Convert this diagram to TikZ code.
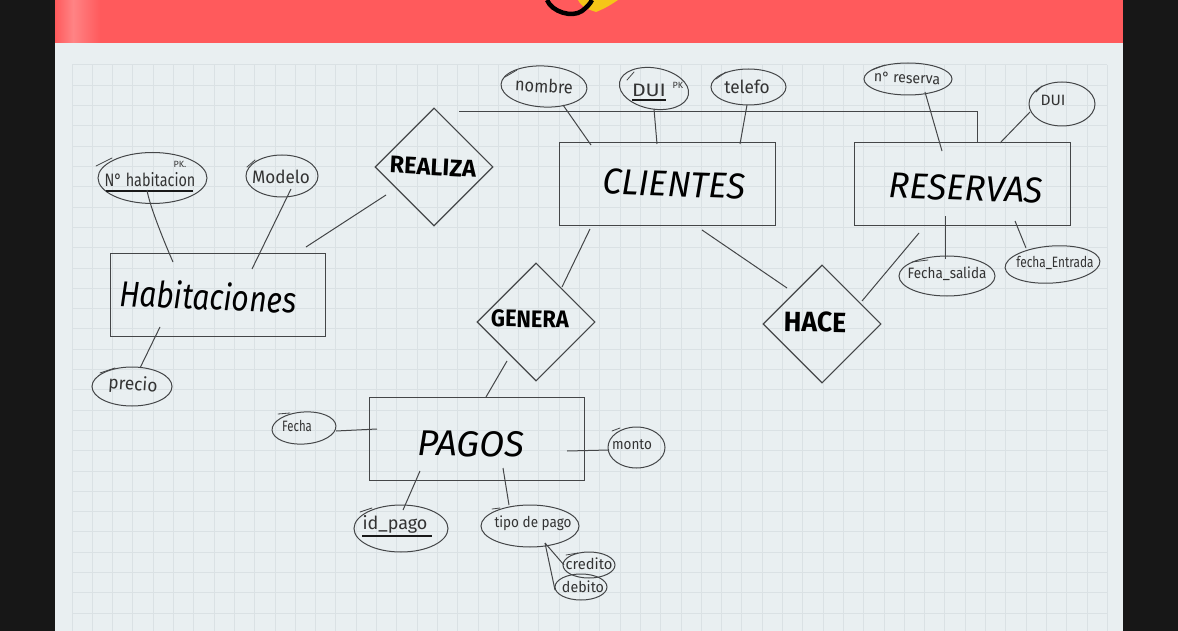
\documentclass[tikz,border=0pt]{standalone}
\usepackage{fontspec}
\setmainfont{Fira Sans}
\usetikzlibrary{shapes.geometric,calc}
\definecolor{sidecol}{HTML}{171717}
\definecolor{redcol}{HTML}{FF5A5C}
\definecolor{papercol}{HTML}{E9EFF1}
\definecolor{gridcol}{HTML}{DAE1E4}
\definecolor{inkcol}{HTML}{444648}
\definecolor{yellowcol}{HTML}{F5C518}
\tikzset{
  entity/.style={draw=inkcol,line width=1pt,minimum width=#1,minimum height=83pt,inner sep=0pt},
  relation/.style={draw=inkcol,line width=1.1pt,diamond,aspect=1,minimum width=118pt,minimum height=118pt,inner sep=0pt},
  attr/.style n args={2}{draw=inkcol,line width=1pt,ellipse,minimum width=#1,minimum height=#2,inner sep=0pt},
  link/.style={draw=inkcol,line width=1pt},
  tail/.style={draw=inkcol,line width=.8pt,line cap=round},
  bigtext/.style={font=\itshape\fontsize{36}{36}\selectfont,text=black},
  reltext/.style={font=\bfseries\fontsize{24}{24}\selectfont,text=black},
  smalltext/.style={font=\fontsize{18}{18}\selectfont,text=black!80},
  tinytext/.style={font=\fontsize{15}{15}\selectfont,text=black!80},
  under/.style={draw=black!90,line width=1.6pt}
}
\begin{document}
\begin{tikzpicture}[x=1pt,y=-1pt]
\useasboundingbox (0,0) rectangle (1178,631);
% backdrop
\fill[sidecol] (0,0) rectangle (1178,631);
\fill[papercol] (55,43) rectangle (1123,631);
\fill[redcol] (55,0) rectangle (1123,43);
\fill[left color=redcol,right color=white!25!redcol] (55,0) rectangle (73,43);
\fill[left color=white!25!redcol,right color=redcol] (73,0) rectangle (100,43);
% grid
\foreach \i in {0,...,51} \draw[gridcol,line width=1pt] ({72+20.3*\i},65) -- ({72+20.3*\i},631);
\foreach \j in {0,...,27} \draw[gridcol,line width=1pt] (72,{65+20.3*\j}) -- (1107,{65+20.3*\j});
% logo fragment
\fill[yellowcol] (578,0) .. controls (582,8) and (590,10) .. (596,12) .. controls (606,8) and (612,4) .. (618,0) -- cycle;
\draw[black,line width=4.5pt] (547,0) .. controls (552,12) and (572,18) .. (582,11) .. controls (587,7) and (590,4) .. (592,0);
% entities
\node[entity=215pt] (hab) at (217.5,295) {};
\node[entity=216pt] (cli) at (667,184.5) {};
\node[entity=216pt] (res) at (962,184.5) {};
\node[entity=215pt] (pag) at (476.5,438.5) {};
\node[bigtext,xscale=.835,rotate=-2] at (208,296) {Habitaciones};
\node[bigtext,xscale=.96,rotate=-2] at (674,184) {CLIENTES};
\node[bigtext,xscale=.97,rotate=-2] at (966,188) {RESERVAS};
\node[bigtext,xscale=1.01,rotate=-1] at (471,444) {PAGOS};
% relations
\node[relation] (rea) at (434,167) {};
\node[relation] (gen) at (536,322) {};
\node[relation] (hac) at (822,324) {};
\node[reltext,xscale=.98,rotate=-3] at (433,167) {REALIZA};
\node[reltext,xscale=.91,rotate=-1] at (530,319) {GENERA};
\node[reltext,xscale=.95,rotate=-1,font=\bfseries\fontsize{28}{28}\selectfont] at (815,322) {HACE};
% attributes
\node[attr={109pt}{51pt}] (nhab) at (152.5,178) {};
\node[attr={72pt}{42pt}] (mod) at (282,176) {};
\node[attr={86pt}{41pt},rotate=-3] (nom) at (544,86.5) {};
\node[attr={70pt}{41pt},rotate=-10] (dui) at (654,88.5) {};
\node[attr={75pt}{36pt}] (tel) at (748.5,87) {};
\node[attr={88pt}{32pt}] (nres) at (908,79) {};
\node[attr={66pt}{44pt}] (dui2) at (1062,104) {};
\node[attr={96pt}{40pt}] (fsal) at (947,276) {};
\node[attr={95pt}{37pt},rotate=4] (fent) at (1052.5,264.5) {};
\node[attr={80pt}{39pt}] (pre) at (132,386.5) {};
\node[attr={64pt}{32pt},rotate=4] (fec) at (304,428) {};
\node[attr={57pt}{41pt}] (mon) at (636.5,447.5) {};
\node[attr={94pt}{47pt}] (idp) at (401,528.5) {};
\node[attr={98pt}{42pt}] (tip) at (530,526) {};
\node[attr={52pt}{26pt}] (cre) at (589,565) {};
\node[attr={52pt}{26pt}] (deb) at (581,587) {};
% attribute texts
\node[smalltext,xscale=.8] at (150,180) {N° habitacion};
\node[tinytext,font=\fontsize{9}{9}\selectfont] at (180,164) {PK.};
\node[smalltext,xscale=.95] at (281,177) {Modelo};
\node[smalltext,xscale=.91,rotate=-3] at (544,86) {nombre};
\node[smalltext,xscale=1.18] at (649,90) {DUI};
\node[tinytext,font=\fontsize{9}{9}\selectfont] at (678,85) {PK};
\node[smalltext,xscale=.96] at (747,87) {telefo};
\node[tinytext,xscale=.94,rotate=-2] at (907,78) {n° reserva};
\node[tinytext,xscale=1.04] at (1053,100) {DUI};
\node[tinytext,xscale=.9] at (947,274) {Fecha\_salida};
\node[tinytext,xscale=.79] at (1055,263) {fecha\_Entrada};
\node[smalltext,xscale=.96,rotate=-4] at (133,385) {precio};
\node[tinytext,xscale=.76] at (297,426) {Fecha};
\node[tinytext,xscale=.9] at (632,445) {monto};
\node[smalltext,xscale=1] at (395,524) {id\_pago};
\node[tinytext,xscale=.9] at (533,523) {tipo de pago};
\node[tinytext,xscale=.98] at (589,564) {credito};
\node[tinytext,xscale=.95] at (583,587) {debito};
% underlines
\draw[under] ([shift={(-47,13)}]nhab.center) -- ([shift={(40,13)}]nhab.center);
\draw[under] ([shift={(-22,11.5)}]dui.center) -- ([shift={(12,11.5)}]dui.center);
\draw[under] ([shift={(-39,7.5)}]idp.center) -- ([shift={(31,7.5)}]idp.center);
% pen overshoots on the ellipses
\draw[tail] ([shift={(-56.5,-12)}]nhab.center) -- ([shift={(-40.5,-20)}]nhab.center);
\draw[tail] ([shift={(-35,-9)}]mod.center) -- ([shift={(-27,-16)}]mod.center);
\draw[tail] ([shift={(-39,-9.5)}]nom.center) -- ([shift={(-27,-16.5)}]nom.center);
\draw[tail] ([shift={(-27,-8.5)}]dui.center) -- ([shift={(-20,-16.5)}]dui.center);
\draw[tail] ([shift={(-32.5,-8)}]tel.center) -- ([shift={(-22.5,-15)}]tel.center);
\draw[tail] ([shift={(-36,-9)}]nres.center) -- ([shift={(-23,-14)}]nres.center);
\draw[tail] ([shift={(-26,-12)}]dui2.center) -- ([shift={(-20,-18)}]dui2.center);
\draw[tail] ([shift={(-35,-14)}]fsal.center) -- ([shift={(-19,-16)}]fsal.center);
\draw[tail] ([shift={(-32,-13.5)}]pre.center) -- ([shift={(-17,-18.5)}]pre.center);
\draw[tail] ([shift={(-26,-14)}]fec.center) -- ([shift={(-14,-15)}]fec.center);
\draw[tail] ([shift={(-24.5,-16.5)}]mon.center) -- ([shift={(-16.5,-19.5)}]mon.center);
\draw[tail] ([shift={(-41,-16.5)}]idp.center) -- ([shift={(-29,-20.5)}]idp.center);
\draw[tail] ([shift={(-38,-17)}]tip.center) -- ([shift={(-30,-18)}]tip.center);
\draw[tail] ([shift={(-23,-10)}]cre.center) -- ([shift={(-11,-12)}]cre.center);
% connectors
\draw[link] ([shift={(-5.5,12)}]nhab.center) .. controls ([shift={(-3,28)}]nhab.center) and ([shift={(-52,-50)}]hab.center) .. ([shift={(-44.5,-33)}]hab.center);
\draw[link] ([shift={(9,13)}]mod.center) -- ([shift={(34.5,-26)}]hab.center);
\draw[link] ([shift={(-48,28)}]rea.center) -- ([shift={(88.5,-48)}]hab.center);
\draw[link] ([shift={(25,-55)}]rea.center) -| ([xshift=15pt]res.north);
\draw[link] ([shift={(19,18.5)}]nom.center) -- ([shift={(-76,-39.5)}]cli.center);
\draw[link] ([shift={(0,20.5)}]dui.center) -- ([shift={(-10,-40.5)}]cli.center);
\draw[link] ([shift={(-1.5,18)}]tel.center) -- ([shift={(73,-40.5)}]cli.center);
\draw[link] ([shift={(17,13)}]nres.center) -- ([shift={(-20,-33.5)}]res.center);
\draw[link] ([shift={(-32,8)}]dui2.center) -- ([shift={(38,-41.5)}]res.center);
\draw[link] ([shift={(-2,-17)}]fsal.center) -- ([shift={(-17,31.5)}]res.center);
\draw[link] ([shift={(-26.5,-16.5)}]fent.center) -- ([shift={(53,36.5)}]res.center);
\draw[link] ([shift={(26,-35)}]gen.center) -- ([shift={(-77,44.5)}]cli.center);
\draw[link] ([shift={(-35,-36)}]hac.center) -- ([shift={(35,45.5)}]cli.center);
\draw[link] ([shift={(40,-23)}]hac.center) -- ([shift={(-43,48.5)}]res.center);
\draw[link] ([shift={(-29,39)}]gen.center) -- ([shift={(9.5,-41.5)}]pag.center);
\draw[link] ([shift={(8,-18.5)}]pre.center) -- ([shift={(-57.5,32)}]hab.center);
\draw[link] ([shift={(32,3)}]fec.center) -- ([shift={(-99.5,-9.5)}]pag.center);
\draw[link] ([shift={(-27.5,2.5)}]mon.center) -- ([shift={(90.5,12.5)}]pag.center);
\draw[link] ([shift={(2,-18.5)}]idp.center) -- ([shift={(-56.5,32.5)}]pag.center);
\draw[link] ([shift={(-21,-21)}]tip.center) -- ([shift={(26.5,29.5)}]pag.center);
\draw[link] ([shift={(15,17)}]tip.center) -- ([shift={(-25,0)}]cre.center);
\draw[link] ([shift={(15,17)}]tip.center) -- ([shift={(-26,3)}]deb.center);
\end{tikzpicture}
\end{document}
